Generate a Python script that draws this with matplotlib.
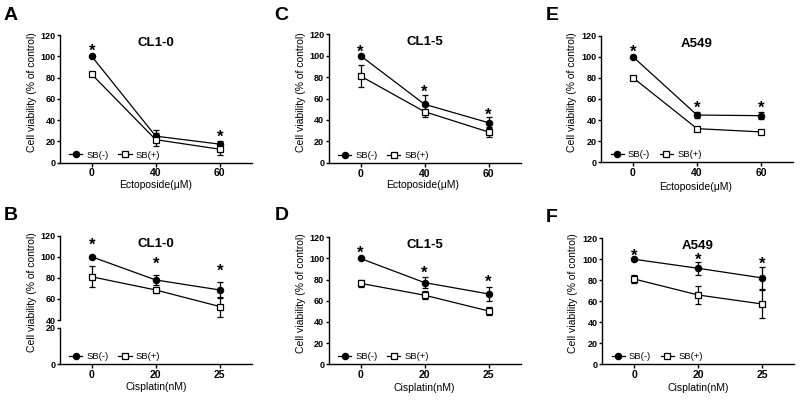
import matplotlib
matplotlib.use('Agg')
import matplotlib.pyplot as plt
from matplotlib.lines import Line2D

plt.rcParams['font.family'] = ['Liberation Sans', 'DejaVu Sans']

# ---------------- data ----------------
etoposide_labels = ['0', '40', '60']
cisplatin_labels = ['0', '20', '25']

# A: CL1-0, Ectoposide
A_minus = [100, 24.8, 17.3]
A_minus_err = [0.8, 5.5, 3.0]
A_plus = [83, 21.5, 12.5]
A_plus_err = [1.5, 6.0, 5.5]
A_stars = [True, False, True]

# B: CL1-0, Cisplatin
B_minus = [100, 78, 68.5]
B_minus_err = [0.8, 4.5, 7.5]
B_plus = [81, 68.5, 52.8]
B_plus_err = [10, 2.5, 9.5]
B_stars = [True, True, True]

# C: CL1-5, Ectoposide
C_minus = [100, 54.6, 37.4]
C_minus_err = [0.8, 8.7, 5.0]
C_plus = [81, 47.7, 28.7]
C_plus_err = [10, 5.0, 5.0]
C_stars = [True, True, True]

# D: CL1-5, Cisplatin
D_minus = [100, 77.2, 66.5]
D_minus_err = [0.8, 5.0, 7.0]
D_plus = [76.5, 65.3, 50.4]
D_plus_err = [3.0, 4.0, 4.0]
D_stars = [True, True, True]

# E: A549, Ectoposide
E_minus = [100, 44.8, 44.2]
E_minus_err = [0.8, 2.5, 3.5]
E_plus = [80.2, 31.9, 28.8]
E_plus_err = [1.5, 1.0, 1.0]
E_stars = [True, True, True]

# F: A549, Cisplatin
F_minus = [100, 91.4, 82.2]
F_minus_err = [0.8, 6.0, 10.7]
F_plus = [81.2, 65.9, 57.3]
F_plus_err = [4.0, 9.0, 13.7]
F_stars = [True, True, True]

series_labels = ['SB(-)', 'SB(+)']
ylabel_text = 'Cell viability (% of control)'
y_ticks_full = [0, 20, 40, 60, 80, 100, 120]
y_ticks_upper = [40, 60, 80, 100, 120]
y_ticks_lower = [0, 20]

# ---------------- figure ----------------
W, H = 800, 404
fig = plt.figure(figsize=(8, 4.04), dpi=100)

LW = 0.9
SPINE = 1.0
TICK_FS = 6.5
XTICK_FS = 7.5
LABEL_FS = 7.5
TITLE_FS = 9.5
LETTER_FS = 14
LEG_FS = 6.8
STAR_FS = 12


def px_axes(left, top, right, bottom):
    return fig.add_axes([left / W, 1 - bottom / H, (right - left) / W, (bottom - top) / H])


def set_yt(ax, ticks):
    ax.set_yticks(ticks, labels=[str(t) for t in ticks], fontsize=TICK_FS,
                  fontweight='bold')


def set_xt(ax, labels):
    ax.set_xticks(list(range(len(labels))), labels=labels, fontsize=XTICK_FS,
                  fontweight='bold')


def style_axes(ax):
    for s in ['top', 'right']:
        ax.spines[s].set_visible(False)
    for s in ['left', 'bottom']:
        ax.spines[s].set_linewidth(SPINE)
    ax.tick_params(axis='y', direction='out', length=2.5, width=SPINE, pad=0.6)
    ax.tick_params(axis='x', direction='out', length=3, width=SPINE, pad=1.2)
    ax.set_xlim(-0.5, 2.5)


def draw_series(ax, minus, minus_err, plus, plus_err):
    x = list(range(len(minus)))
    ax.errorbar(x, minus, yerr=minus_err, color='black', lw=LW, marker='o', ms=4.4,
                mfc='black', mec='black', capsize=2.2, elinewidth=LW, capthick=LW,
                clip_on=False, zorder=3)
    ax.errorbar(x, plus, yerr=plus_err, color='black', lw=LW, marker='s', ms=4.8,
                mfc='white', mec='black', mew=0.9, capsize=2.2, elinewidth=LW,
                capthick=LW, clip_on=False, zorder=4)


def draw_stars(ax, minus, minus_err, stars, off_px):
    for i, (m, e, s) in enumerate(zip(minus, minus_err, stars)):
        if s:
            ax.annotate('*', xy=(i, m + e), xytext=(0, (off_px - 6.5) / 1.389),
                        textcoords='offset points', ha='center', va='baseline',
                        fontsize=STAR_FS, fontweight='bold')


def add_legend(ax):
    handles = [
        Line2D([0], [0], color='black', lw=LW, marker='o', ms=4.4, mfc='black'),
        Line2D([0], [0], color='black', lw=LW, marker='s', ms=4.8, mfc='white', mew=0.9),
    ]
    ax.legend(handles, series_labels, loc='lower left', bbox_to_anchor=(0.035, 0.0),
              ncol=2, frameon=False, fontsize=LEG_FS, handlelength=1.4,
              handletextpad=0.45, columnspacing=1.0, borderaxespad=0, borderpad=0.3)


def add_title(ax, text):
    ax.annotate(text, xy=(0.5, 1), xycoords='axes fraction', xytext=(0, -8 / 1.389),
                textcoords='offset points', ha='center', va='center',
                fontsize=TITLE_FS, fontweight='bold')


def simple_panel(box, labels, minus, minus_err, plus, plus_err, stars, title,
                 xlabel, star_off, ylab_xy, xlab_xy):
    left, top, right, bottom = box
    ax = px_axes(left, top, right, bottom)
    draw_series(ax, minus, minus_err, plus, plus_err)
    draw_stars(ax, minus, minus_err, stars, star_off)
    ax.set_ylim(0, 120)
    set_yt(ax, y_ticks_full)
    set_xt(ax, labels)
    style_axes(ax)
    add_legend(ax)
    add_title(ax, title)
    fig.text(ylab_xy[0] / W, 1 - ylab_xy[1] / H, ylabel_text, rotation=90,
             ha='center', va='center', fontsize=LABEL_FS)
    fig.text(xlab_xy[0] / W, 1 - xlab_xy[1] / H, xlabel, ha='center', va='center',
             fontsize=LABEL_FS)
    return ax


# Panel A
simple_panel((59.7, 35, 251.7, 162.5), etoposide_labels, A_minus, A_minus_err,
             A_plus, A_plus_err, A_stars, 'CL1-0', 'Ectoposide(\u03bcM)', 6,
             (32, 91.7), (156, 185))
# Panel C
simple_panel((328.5, 34.3, 520.5, 162.7), etoposide_labels, C_minus, C_minus_err,
             C_plus, C_plus_err, C_stars, 'CL1-5', 'Ectoposide(\u03bcM)', 4.5,
             (300.7, 91.7), (423, 185))
# Panel E
simple_panel((601, 35.7, 793, 162.3), etoposide_labels, E_minus, E_minus_err,
             E_plus, E_plus_err, E_stars, 'A549', 'Ectoposide(\u03bcM)', 6,
             (572.3, 91.7), (696, 187))
# Panel D
simple_panel((328.5, 237.3, 520.5, 364.3), cisplatin_labels, D_minus, D_minus_err,
             D_plus, D_plus_err, D_stars, 'CL1-5', 'Cisplatin(nM)', 6,
             (300.7, 293), (424, 387.7))
# Panel F
simple_panel((602, 238.3, 794, 364), cisplatin_labels, F_minus, F_minus_err,
             F_plus, F_plus_err, F_stars, 'A549', 'Cisplatin(nM)', 4,
             (572.7, 293), (698, 388))

# Panel B (broken y axis)
axu = px_axes(59.7, 235.7, 251.7, 320)
axl = px_axes(59.7, 327.7, 251.7, 364)
draw_series(axu, B_minus, B_minus_err, B_plus, B_plus_err)
draw_stars(axu, B_minus, B_minus_err, B_stars, 13)
axu.set_ylim(40, 120)
set_yt(axu, y_ticks_upper)
axu.set_xticks([])
style_axes(axu)
axu.spines['bottom'].set_visible(False)
add_title(axu, 'CL1-0')
axl.set_ylim(0, 20)
set_yt(axl, y_ticks_lower)
set_xt(axl, cisplatin_labels)
style_axes(axl)
add_legend(axl)
fig.text(32 / W, 1 - 292.6 / H, ylabel_text, rotation=90, ha='center', va='center',
         fontsize=LABEL_FS)
fig.text(156 / W, 1 - 386.7 / H, 'Cisplatin(nM)', ha='center', va='center',
         fontsize=LABEL_FS)

# Panel letters
for letter, (lx, ly) in zip('ABCDEF', [(11, 15), (11, 215), (281, 15), (282, 216),
                                       (552, 16), (552, 217)]):
    fig.text(lx / W, 1 - ly / H, letter, ha='center', va='center',
             fontsize=LETTER_FS, fontweight='bold')

fig.savefig('out.png', dpi=100)
